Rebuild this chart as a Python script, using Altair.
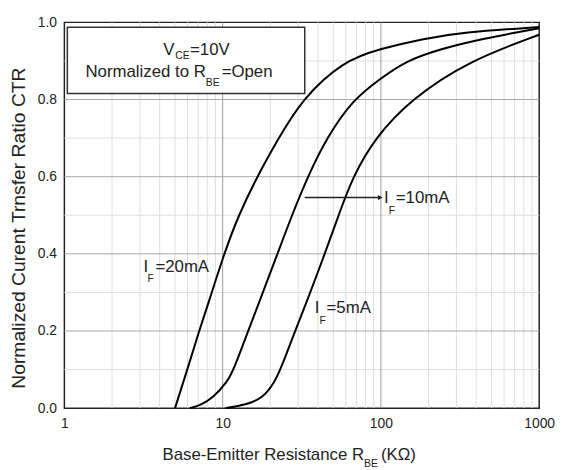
import altair as alt
import pandas as pd

# ---- data ----
x_20mA = [5.0, 5.96, 7.1, 8.1, 10.2, 12.6, 16.5, 22.6, 31.6, 57.6, 100, 183, 324, 1000]
y_20mA = [0.0, 0.098, 0.2, 0.27, 0.4, 0.5, 0.6, 0.7, 0.8, 0.9, 0.932, 0.957, 0.974, 0.988]
x_10mA = [6.2, 7.3, 8.66, 10.7, 11.7, 14.5, 17.2, 22.2, 27.4, 34.5, 45.3, 66.5, 100, 143, 243, 432, 1000]
y_10mA = [0.0, 0.0085, 0.026, 0.068, 0.098, 0.2, 0.28, 0.4, 0.5, 0.6, 0.7, 0.8, 0.855, 0.9, 0.932, 0.957, 0.985]
x_5mA = [10.4, 14.0, 18.0, 21.3, 23.1, 28.7, 34.3, 44.2, 54, 66.5, 91.5, 154, 356, 1000]
y_5mA = [0.0, 0.0085, 0.026, 0.068, 0.098, 0.2, 0.28, 0.4, 0.5, 0.6, 0.7, 0.8, 0.9, 0.968]

x_ticks = [1, 10, 100, 1000]
y_ticks = [0.0, 0.2, 0.4, 0.6, 0.8, 1.0]
grid_minor_x = [2, 3, 4, 5, 6, 7, 8, 9, 20, 30, 40, 50, 60, 70, 80, 90,
                200, 300, 400, 500, 600, 700, 800, 900]
grid_major_x = [10, 100]
grid_minor_y = [0.1, 0.3, 0.5, 0.7, 0.9]
grid_major_y = [0.2, 0.4, 0.6, 0.8]

arrow_x_start = [33.0]
arrow_x_end = [99.0]
arrow_y = [0.546]

FONT = "Liberation Sans"
INK = "#222222"

xs = alt.Scale(type="log", domain=[1, 1000])
ys = alt.Scale(domain=[0, 1])
x_axis = alt.Axis(values=x_ticks, title=None, grid=False, domain=False, ticks=False, labelFlush=False,
                  labelPadding=9, labelFontSize=14, labelFont=FONT, labelColor=INK, format="d")
y_axis = alt.Axis(values=y_ticks, title=None, grid=False, domain=False, ticks=False, labelFlush=False,
                  labelPadding=8, labelFontSize=14, labelFont=FONT, labelColor=INK, format=".1f")

frames = []
for name, xv, yv in [("20mA", x_20mA, y_20mA), ("10mA", x_10mA, y_10mA), ("5mA", x_5mA, y_5mA)]:
    frames.append(pd.DataFrame({"R": xv, "CTR": yv, "series": name}))
curves_df = pd.concat(frames, ignore_index=True)


def vrules(vals, color):
    return alt.Chart(pd.DataFrame({"R": vals})).mark_rule(color=color, strokeWidth=1).encode(
        x=alt.X("R:Q", scale=xs, axis=x_axis))


def hrules(vals, color):
    return alt.Chart(pd.DataFrame({"CTR": vals})).mark_rule(color=color, strokeWidth=1).encode(
        y=alt.Y("CTR:Q", scale=ys, axis=y_axis))


layers = [
    vrules(grid_minor_x, "#dedede"),
    hrules(grid_minor_y, "#dedede"),
    vrules(grid_major_x, "#9c9c9c"),
    hrules(grid_major_y, "#a8a8a8"),
]

# legend box
layers.append(
    alt.Chart(pd.DataFrame({"k": [0]})).mark_rect(fill="white", stroke="#333333", strokeWidth=1.5).encode(
        x=alt.value(3), x2=alt.value(243), y=alt.value(5), y2=alt.value(72))
)

# curves
layers.append(
    alt.Chart(curves_df).mark_line(color="black", strokeWidth=2, interpolate="basis").encode(
        x=alt.X("R:Q", scale=xs, axis=x_axis),
        y=alt.Y("CTR:Q", scale=ys, axis=y_axis),
        detail="series:N",
    )
)

# arrow for I_F=10mA
arrow_df = pd.DataFrame({"x1": arrow_x_start, "x2": arrow_x_end, "y": arrow_y})
layers.append(
    alt.Chart(arrow_df).mark_rule(color=INK, strokeWidth=1.3).encode(
        x=alt.X("x1:Q", scale=xs, axis=x_axis), x2="x2:Q", y=alt.Y("y:Q", scale=ys, axis=y_axis))
)
layers.append(
    alt.Chart(arrow_df).mark_point(shape="triangle-right", filled=True, size=28, color=INK, opacity=1).encode(
        x=alt.X("x2:Q", scale=xs, axis=x_axis), y=alt.Y("y:Q", scale=ys, axis=y_axis))
)


def txt(s, px, py, size=17, angle=0, align="left", baseline="alphabetic"):
    kw = dict(font=FONT, fontSize=size, color=INK, align=align, baseline=baseline)
    if angle:
        kw["angle"] = angle
    return alt.Chart(pd.DataFrame({"t": [s]})).mark_text(**kw).encode(
        text="t:N", x=alt.value(px), y=alt.value(py))


SUB = 10.5
# legend text
layers += [
    txt("V", 100, 33),
    txt("CE", 112, 37, size=SUB),
    txt("=10V", 127, 33),
    txt("Normalized to R", 143, 55, align="right"),
    txt("BE", 143, 64, size=SUB),
    txt("=Open", 159, 55),
]
# curve labels
layers += [
    txt("I", 80, 252), txt("F", 84, 262, size=SUB), txt("=20mA", 92, 252),
    txt("I", 323, 183), txt("F", 328, 194, size=SUB), txt("=10mA", 335, 183),
    txt("I", 253, 294), txt("F", 258, 305, size=SUB), txt("=5mA", 265, 294),
]
# axis titles
layers += [
    txt("Base-Emitter Resistance R", 303, 442, align="right"),
    txt("BE", 303, 449, size=SUB),
    txt("(KΩ)", 320, 442),
    txt("Normalized Curent Trnsfer Ratio CTR", -46, 208, size=19.5, angle=270,
        align="center", baseline="middle"),
]

chart = alt.layer(*layers).properties(
    width=480, height=390,
    autosize=alt.AutoSizeParams(type="none"),
    padding={"left": 57, "top": 12, "right": 16, "bottom": 60},
).configure_view(stroke="#222222", strokeWidth=1.5)

chart.save("out.html", embed_options={"renderer": "svg", "actions": False})
